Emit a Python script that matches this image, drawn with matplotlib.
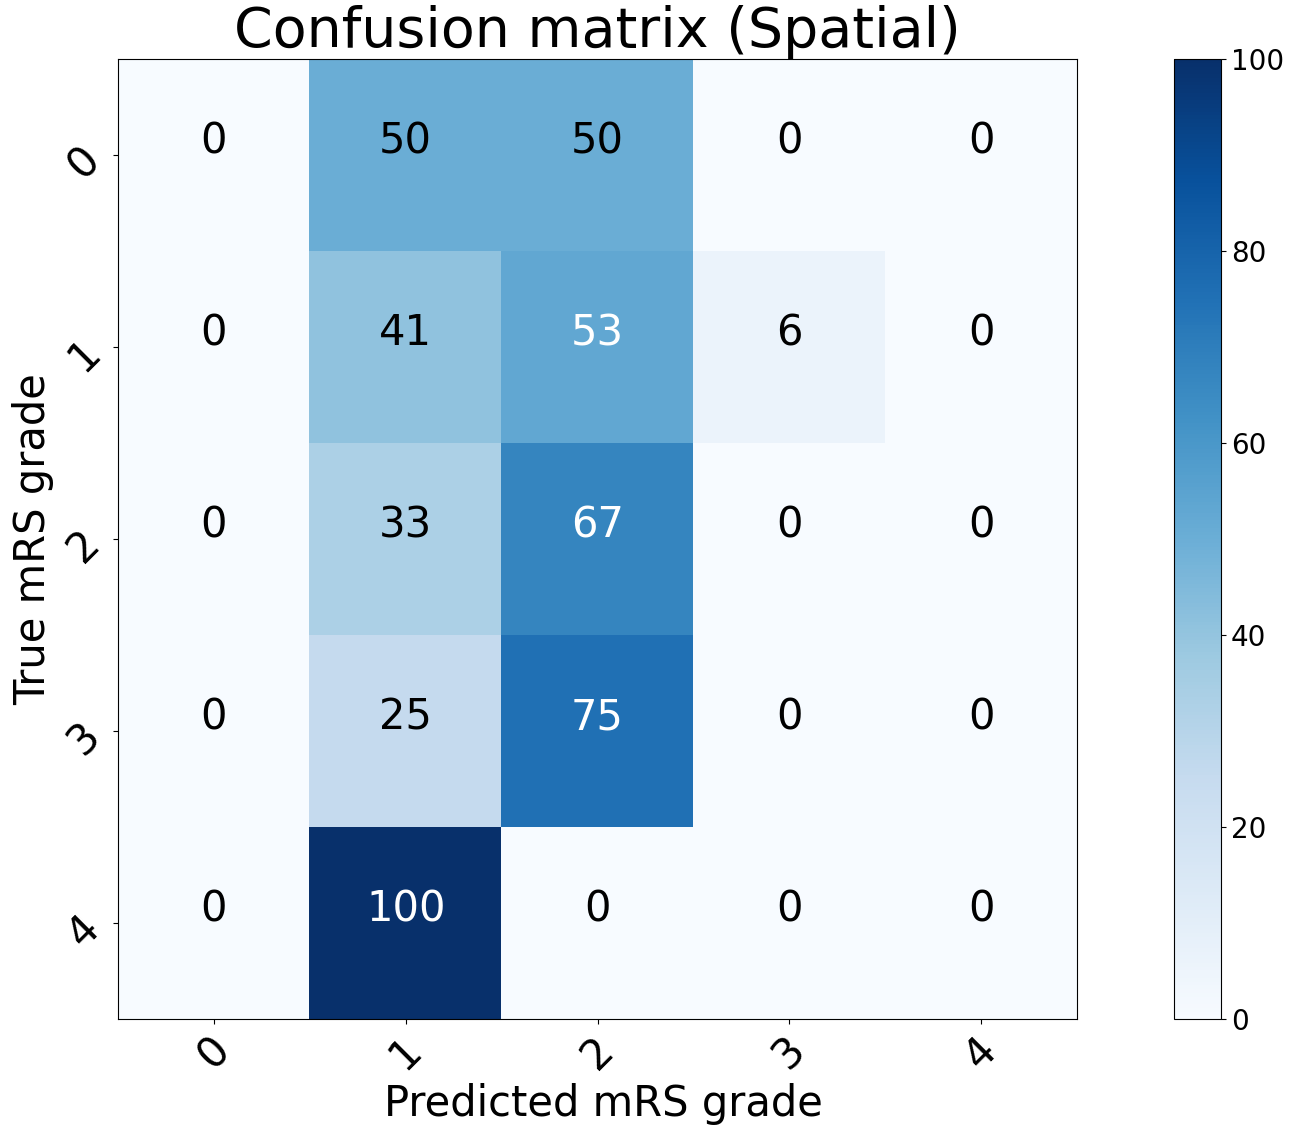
import numpy as np
import matplotlib
matplotlib.use('Agg')
import matplotlib.pyplot as plt

# confusion matrix values (percent)
classes = ['0', '1', '2', '3', '4']
cm = np.array([[0, 50, 50, 0, 0],
               [0, 41, 53, 6, 0],
               [0, 33, 67, 0, 0],
               [0, 25, 75, 0, 0],
               [0, 100, 0, 0, 0]])

fig = plt.figure(figsize=(12.9, 11.27), dpi=100)
ax = fig.add_axes([118/1290, 1-1019/1127, 959/1290, 960/1127])
cax = fig.add_axes([1174/1290, 1-1019/1127, 47/1290, 960/1127])

im = ax.imshow(cm, interpolation='nearest', cmap=plt.cm.Blues, vmin=0, vmax=100, aspect='auto')
cb = fig.colorbar(im, cax=cax)
cb.ax.tick_params(labelsize=20)

ax.set_title('Confusion matrix (Spatial)', fontsize=40, pad=5)
ticks = np.arange(len(classes))
ax.set_xticks(ticks)
ax.set_xticklabels(classes, rotation=45, fontsize=30)
ax.set_yticks(ticks)
ax.set_yticklabels(classes, rotation=45, fontsize=30)

# cell labels, nudged up like the old va='center' behaviour
thresh = cm.max() / 2.
for i in range(cm.shape[0]):
    for j in range(cm.shape[1]):
        ax.annotate(format(cm[i, j], 'd'), xy=(j, i), xytext=(0, 10), textcoords='offset points',
                    ha='center', va='center', fontsize=30,
                    color='white' if cm[i, j] > thresh else 'black')

ax.set_ylabel('True mRS grade', fontsize=30)
ax.set_xlabel('Predicted mRS grade', fontsize=30, x=0.506)

fig.savefig('out.png', dpi=100)
